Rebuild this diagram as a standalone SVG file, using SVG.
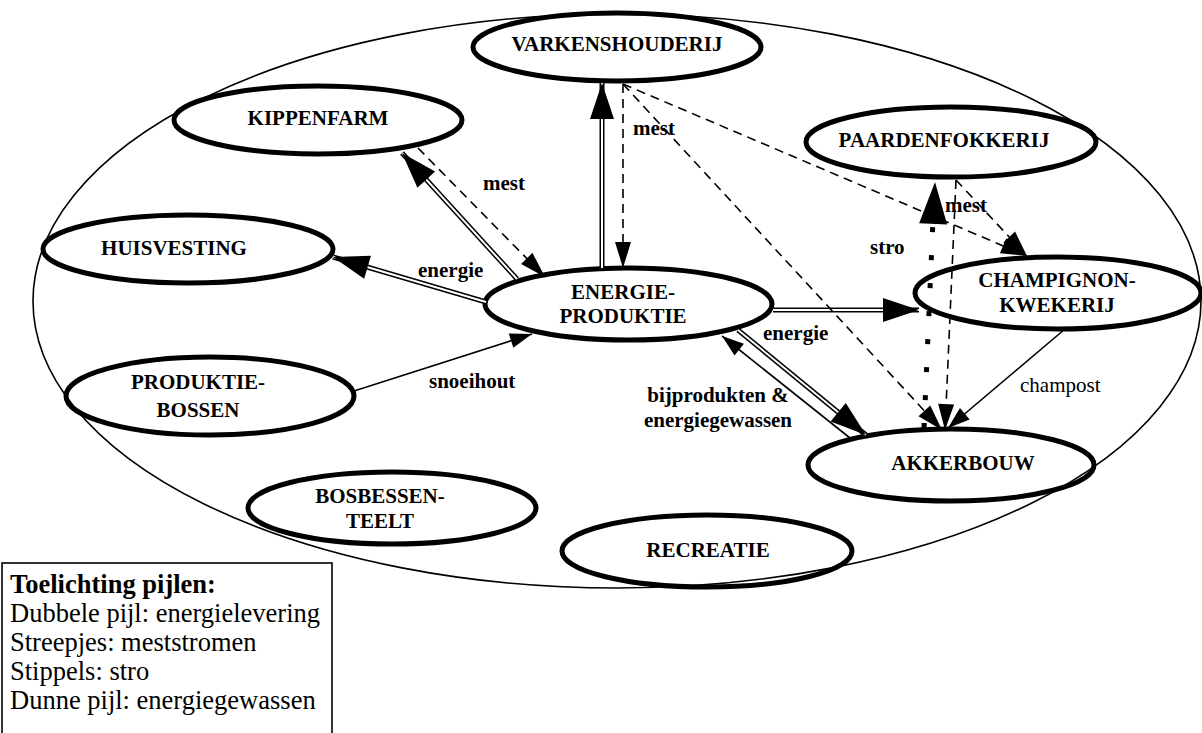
<svg xmlns="http://www.w3.org/2000/svg" width="1202" height="733" viewBox="0 0 1202 733">
<defs>
<style>
.node ellipse{fill:none;stroke:#000;stroke-width:5}
.nt{font-family:"Liberation Serif","Times New Roman",serif;font-weight:bold;font-size:21px;text-anchor:middle;fill:#000}
.lbl{font-family:"Liberation Serif","Times New Roman",serif;font-weight:bold;font-size:21px;fill:#000}
.lblr{font-family:"Liberation Serif","Times New Roman",serif;font-size:21px;fill:#000}
.leg{font-family:"Liberation Serif","Times New Roman",serif;font-size:26.5px;fill:#000}
.dbl-o{stroke:#000;stroke-width:5;fill:none}
.dbl-i{stroke:#fff;stroke-width:2;fill:none}
.head{stroke:none;fill:none}
.dash{stroke:#000;stroke-width:1.6;stroke-dasharray:9 6;fill:none}
.thin{stroke:#000;stroke-width:1.6;fill:none}
.dot{stroke:#000;stroke-width:5;stroke-dasharray:5 23;fill:none}
</style>
<marker id="hb" markerUnits="userSpaceOnUse" orient="auto" markerWidth="40" markerHeight="26" refX="36" refY="12" overflow="visible"><path d="M0,0 L36,12 L0,24 z" fill="#000"/></marker>
<marker id="hm" markerUnits="userSpaceOnUse" orient="auto" markerWidth="30" markerHeight="18" refX="26" refY="8" overflow="visible"><path d="M0,0 L26,8 L0,16 z" fill="#000"/></marker>
<marker id="hs" markerUnits="userSpaceOnUse" orient="auto" markerWidth="26" markerHeight="16" refX="22" refY="7.5" overflow="visible"><path d="M0,0 L22,7.5 L0,15 z" fill="#000"/></marker>
<marker id="hst" markerUnits="userSpaceOnUse" orient="auto" markerWidth="44" markerHeight="30" refX="42" refY="14" overflow="visible"><path d="M0,0 L42,14 L0,28 z" fill="#000"/></marker>
</defs>
<rect x="0" y="0" width="1202" height="733" fill="#fff"/>
<ellipse id="boundary" cx="617" cy="301" rx="584" ry="287" fill="none" stroke="#000" stroke-width="1.6"/>

<g id="varkenshouderij" class="node"><ellipse cx="617" cy="47" rx="144" ry="34"/><text class="nt" x="617" y="51">VARKENSHOUDERIJ</text></g>
<g id="kippenfarm" class="node"><ellipse cx="318" cy="120" rx="144" ry="34"/><text class="nt" x="318" y="125">KIPPENFARM</text></g>
<g id="paardenfokkerij" class="node"><ellipse cx="951" cy="142" rx="145" ry="35"/><text class="nt" x="944" y="147">PAARDENFOKKERIJ</text></g>
<g id="huisvesting" class="node"><ellipse cx="188" cy="249" rx="145" ry="34"/><text class="nt" x="174" y="255">HUISVESTING</text></g>
<g id="energieproduktie" class="node"><ellipse cx="628.5" cy="304" rx="143.5" ry="36"/><text class="nt" x="623" y="299">ENERGIE-</text><text class="nt" x="623" y="323">PRODUKTIE</text></g>
<g id="champignonkwekerij" class="node"><ellipse cx="1058" cy="293" rx="143" ry="36"/><text class="nt" x="1057" y="287">CHAMPIGNON-</text><text class="nt" x="1057" y="312">KWEKERIJ</text></g>
<g id="produktiebossen" class="node"><ellipse cx="210" cy="396" rx="144" ry="39"/><text class="nt" x="198" y="389">PRODUKTIE-</text><text class="nt" x="198" y="417">BOSSEN</text></g>
<g id="akkerbouw" class="node"><ellipse cx="951" cy="465" rx="143" ry="36"/><text class="nt" x="963" y="470">AKKERBOUW</text></g>
<g id="bosbessenteelt" class="node"><ellipse cx="392" cy="508" rx="144" ry="36"/><text class="nt" x="380" y="503">BOSBESSEN-</text><text class="nt" x="380" y="528">TEELT</text></g>
<g id="recreatie" class="node"><ellipse cx="707" cy="551" rx="145" ry="36"/><text class="nt" x="708" y="557">RECREATIE</text></g>

<g id="connectors">
<path class="dbl-o" d="M602,268 L602,83"/><path class="dbl-i" d="M602,268 L602,83"/><path class="head" d="M602,268 L602,83" marker-end="url(#hb)"/>
<path class="dbl-o" d="M773,310 L919,310"/><path class="dbl-i" d="M773,310 L919,310"/><path class="head" d="M773,310 L919,310" marker-end="url(#hb)"/>
<path class="dbl-o" d="M738,330 L866,435"/><path class="dbl-i" d="M738,330 L866,435"/><path class="head" d="M738,330 L866,435" marker-end="url(#hb)"/>
<path class="dbl-o" d="M517,279 L402,153"/><path class="dbl-i" d="M517,279 L402,153"/><path class="head" d="M517,279 L402,153" marker-end="url(#hb)"/>
<path class="dbl-o" d="M486,302 L333,257"/><path class="dbl-i" d="M486,302 L333,257"/><path class="head" d="M486,302 L333,257" marker-end="url(#hb)"/>
<path class="dash" d="M623,84 L623,268" marker-end="url(#hm)"/>
<path class="dash" d="M623,84 L1027,256" marker-end="url(#hm)"/>
<path class="dash" d="M623,84 L942,430" marker-end="url(#hm)"/>
<path class="dash" d="M956,180 L1027,256" marker-end="url(#hm)"/>
<path class="dash" d="M956,180 L945,430" marker-end="url(#hm)"/>
<path class="dash" d="M418,148 L545,277" marker-end="url(#hm)"/>
<path class="thin" d="M1065,329 L948,428" marker-end="url(#hs)"/>
<path class="thin" d="M850,438 L722,336" marker-end="url(#hs)"/>
<path class="thin" d="M354,391 L532,334" marker-end="url(#hs)"/>
<path class="dot" d="M924,428 L933,220"/>
<path class="head" d="M924,428 L935,182" marker-end="url(#hst)"/>
<text class="lbl" x="633" y="135">mest</text>
<text class="lbl" x="483" y="190">mest</text>
<text class="lbl" x="945" y="212">mest</text>
<text class="lbl" x="870" y="254">stro</text>
<text class="lbl" x="418" y="277">energie</text>
<text class="lbl" x="763" y="340">energie</text>
<text class="lbl" x="429" y="388">snoeihout</text>
<text class="lbl" x="718" y="402" text-anchor="middle">bijprodukten &amp;</text>
<text class="lbl" x="718" y="427" text-anchor="middle">energiegewassen</text>
<text class="lblr" x="1020" y="392">champost</text>
</g>

<g id="legend">
<rect x="2" y="563" width="330" height="190" fill="none" stroke="#000" stroke-width="1.6"/>
<text class="leg" x="10" y="593" font-weight="bold">Toelichting pijlen:</text>
<text class="leg" x="10" y="622">Dubbele pijl: energielevering</text>
<text class="leg" x="10" y="651">Streepjes: meststromen</text>
<text class="leg" x="10" y="680">Stippels: stro</text>
<text class="leg" x="10" y="709">Dunne pijl: energiegewassen</text>
</g>
</svg>
